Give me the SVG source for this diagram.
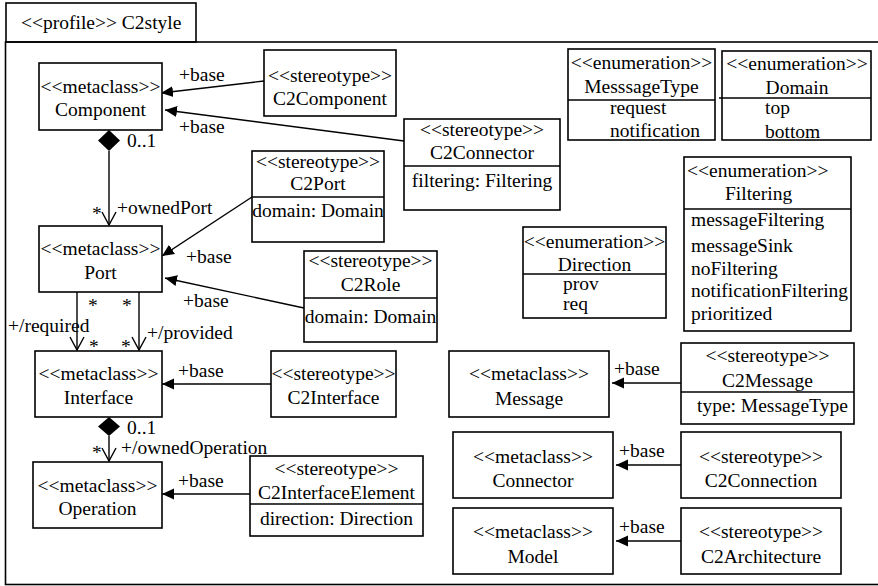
<svg xmlns="http://www.w3.org/2000/svg" width="878" height="586" viewBox="0 0 878 586" font-family="Liberation Serif, Times New Roman, serif" font-size="19.5">
<style>
text{fill:#000}
.c{text-anchor:middle}
.box{fill:#fff;stroke:#000;stroke-width:1.6}
.div{stroke:#000;stroke-width:1.4}
.ln{stroke:#000;stroke-width:1.4;fill:none}
.fa{marker-end:url(#arr)}
.oa{marker-end:url(#open)}
</style>
<defs>
<marker id="arr" viewBox="0 0 12 12" refX="12" refY="6" markerWidth="12" markerHeight="12" markerUnits="userSpaceOnUse" orient="auto">
<path d="M0,0.5 L12,6 L0,11.5 z" fill="#000"/>
</marker>
<marker id="open" viewBox="0 0 16 16" refX="14" refY="8" markerWidth="16" markerHeight="16" markerUnits="userSpaceOnUse" orient="auto">
<path d="M1,1 L14,8 L1,15" fill="none" stroke="#000" stroke-width="1.4"/>
</marker>
</defs>
<rect width="878" height="586" fill="#fff"/>
<g id="profile">
<rect x="6" y="3" width="190" height="39" class="box"/>
<rect x="5.5" y="42" width="875" height="542.5" fill="none" stroke="#000" stroke-width="1.6"/>
<text x="21" y="29">&lt;&lt;profile&gt;&gt; C2style</text>
</g>
<g id="connectors">
<line x1="264" y1="81" x2="161" y2="93" class="ln fa"/>
<line x1="404" y1="141" x2="165" y2="110" class="ln fa"/>
<polygon points="109,130 120,140.5 109,151 98,140.5" fill="#000"/>
<line x1="109" y1="151" x2="109" y2="225" class="ln oa"/>
<line x1="252" y1="197" x2="162" y2="256" class="ln fa"/>
<line x1="304" y1="308" x2="165" y2="278" class="ln fa"/>
<line x1="77" y1="292" x2="77" y2="350" class="ln oa"/>
<line x1="139" y1="292" x2="139" y2="350" class="ln oa"/>
<line x1="271" y1="384" x2="162" y2="384" class="ln fa"/>
<polygon points="109,417 120,426.5 109,436 98,426.5" fill="#000"/>
<line x1="109" y1="436" x2="109" y2="461" class="ln oa"/>
<line x1="250" y1="494" x2="162" y2="494" class="ln fa"/>
<line x1="681" y1="383" x2="612" y2="383" class="ln fa"/>
<line x1="681" y1="465" x2="616" y2="465" class="ln fa"/>
<line x1="681" y1="541" x2="616" y2="541" class="ln fa"/>
<text x="179" y="81">+base</text>
<text x="179" y="133">+base</text>
<text x="127" y="147">0..1</text>
<text x="92" y="220">*</text>
<text x="117" y="214">+ownedPort</text>
<text x="186" y="263">+base</text>
<text x="183" y="307">+base</text>
<text x="88" y="312">*</text>
<text x="122" y="312">*</text>
<text x="89" y="353">*</text>
<text x="121" y="353">*</text>
<text x="8" y="332">+/required</text>
<text x="147" y="339">+/provided</text>
<text x="178" y="377">+base</text>
<text x="127" y="434">0..1</text>
<text x="92" y="459">*</text>
<text x="121" y="454">+/ownedOperation</text>
<text x="178" y="487">+base</text>
<text x="614" y="375">+base</text>
<text x="619" y="457">+base</text>
<text x="619" y="533">+base</text>
</g>
<g id="Component">
<rect x="39" y="63" width="123" height="67" class="box"/>
<text x="100.5" y="93" class="c">&lt;&lt;metaclass&gt;&gt;</text>
<text x="100.5" y="116" class="c">Component</text>
</g>
<g id="C2Component">
<rect x="264" y="50" width="132" height="66" class="box"/>
<text x="330" y="82" class="c">&lt;&lt;stereotype&gt;&gt;</text>
<text x="330" y="105" class="c">C2Component</text>
</g>
<g id="C2Connector">
<rect x="404" y="119" width="156" height="91" class="box"/>
<line x1="404" y1="166" x2="560" y2="166" class="div"/>
<text x="482" y="136" class="c">&lt;&lt;stereotype&gt;&gt;</text>
<text x="482" y="159" class="c">C2Connector</text>
<text x="482" y="187" class="c">filtering: Filtering</text>
</g>
<g id="C2Port">
<rect x="252" y="151" width="132" height="91" class="box"/>
<line x1="252" y1="197" x2="384" y2="197" class="div"/>
<text x="318" y="168" class="c">&lt;&lt;stereotype&gt;&gt;</text>
<text x="318" y="190" class="c">C2Port</text>
<text x="318" y="217" class="c">domain: Domain</text>
</g>
<g id="Port">
<rect x="39" y="226" width="123" height="66" class="box"/>
<text x="100.5" y="255" class="c">&lt;&lt;metaclass&gt;&gt;</text>
<text x="100.5" y="279" class="c">Port</text>
</g>
<g id="C2Role">
<rect x="304" y="251" width="133" height="91" class="box"/>
<line x1="304" y1="298" x2="437" y2="298" class="div"/>
<text x="370.5" y="267" class="c">&lt;&lt;stereotype&gt;&gt;</text>
<text x="370.5" y="291" class="c">C2Role</text>
<text x="370.5" y="323" class="c">domain: Domain</text>
</g>
<g id="Interface">
<rect x="35" y="351" width="127" height="66" class="box"/>
<text x="98.5" y="380" class="c">&lt;&lt;metaclass&gt;&gt;</text>
<text x="98.5" y="404" class="c">Interface</text>
</g>
<g id="C2Interface">
<rect x="271" y="351" width="125" height="66" class="box"/>
<text x="333.5" y="380" class="c">&lt;&lt;stereotype&gt;&gt;</text>
<text x="333.5" y="404" class="c">C2Interface</text>
</g>
<g id="Operation">
<rect x="33" y="462" width="129" height="66" class="box"/>
<text x="97.5" y="492" class="c">&lt;&lt;metaclass&gt;&gt;</text>
<text x="97.5" y="515" class="c">Operation</text>
</g>
<g id="C2InterfaceElement">
<rect x="250" y="456" width="173" height="80" class="box"/>
<line x1="250" y1="504" x2="423" y2="504" class="div"/>
<text x="336.5" y="475" class="c">&lt;&lt;stereotype&gt;&gt;</text>
<text x="336.5" y="499" class="c">C2InterfaceElement</text>
<text x="336.5" y="525" class="c">direction: Direction</text>
</g>
<g id="MesssageType">
<rect x="568" y="49" width="147" height="91" class="box"/>
<line x1="568" y1="100" x2="715" y2="100" class="div"/>
<text x="641.5" y="69" class="c">&lt;&lt;enumeration&gt;&gt;</text>
<text x="641.5" y="93" class="c">MesssageType</text>
<text x="610" y="114">request</text>
<text x="610" y="137">notification</text>
</g>
<g id="Domain">
<rect x="722" y="51" width="149" height="89" class="box"/>
<line x1="719" y1="98" x2="871" y2="98" class="div"/>
<text x="797" y="70" class="c">&lt;&lt;enumeration&gt;&gt;</text>
<text x="797" y="94" class="c">Domain</text>
<text x="765" y="114">top</text>
<text x="765" y="138">bottom</text>
</g>
<g id="Filtering">
<rect x="684" y="157" width="167" height="174" class="box"/>
<line x1="684" y1="209" x2="851" y2="209" class="div"/>
<text x="687" y="177">&lt;&lt;enumeration&gt;&gt;</text>
<text x="725" y="200">Filtering</text>
<text x="691" y="226">messageFiltering</text>
<text x="691" y="252">messageSink</text>
<text x="691" y="275">noFiltering</text>
<text x="691" y="297">notificationFiltering</text>
<text x="691" y="320">prioritized</text>
</g>
<g id="Direction">
<rect x="523" y="227" width="143" height="91" class="box"/>
<line x1="523" y1="274" x2="666" y2="274" class="div"/>
<text x="594.5" y="248" class="c">&lt;&lt;enumeration&gt;&gt;</text>
<text x="594.5" y="271" class="c">Direction</text>
<text x="563" y="290">prov</text>
<text x="563" y="310">req</text>
</g>
<g id="Message">
<rect x="449" y="351" width="160" height="66" class="box"/>
<text x="529" y="380" class="c">&lt;&lt;metaclass&gt;&gt;</text>
<text x="529" y="405" class="c">Message</text>
</g>
<g id="C2Message">
<rect x="681" y="343" width="173" height="81" class="box"/>
<line x1="681" y1="392" x2="854" y2="392" class="div"/>
<text x="767.5" y="362" class="c">&lt;&lt;stereotype&gt;&gt;</text>
<text x="767.5" y="387" class="c">C2Message</text>
<text x="697" y="412">type: MessageType</text>
</g>
<g id="Connector">
<rect x="453" y="432" width="160" height="66" class="box"/>
<text x="533" y="463" class="c">&lt;&lt;metaclass&gt;&gt;</text>
<text x="533" y="487" class="c">Connector</text>
</g>
<g id="C2Connection">
<rect x="681" y="432" width="160" height="66" class="box"/>
<text x="761" y="463" class="c">&lt;&lt;stereotype&gt;&gt;</text>
<text x="761" y="487" class="c">C2Connection</text>
</g>
<g id="Model">
<rect x="453" y="508" width="160" height="66" class="box"/>
<text x="533" y="538" class="c">&lt;&lt;metaclass&gt;&gt;</text>
<text x="533" y="563" class="c">Model</text>
</g>
<g id="C2Architecture">
<rect x="681" y="508" width="160" height="66" class="box"/>
<text x="761" y="538" class="c">&lt;&lt;stereotype&gt;&gt;</text>
<text x="761" y="563" class="c">C2Architecture</text>
</g>
</svg>
